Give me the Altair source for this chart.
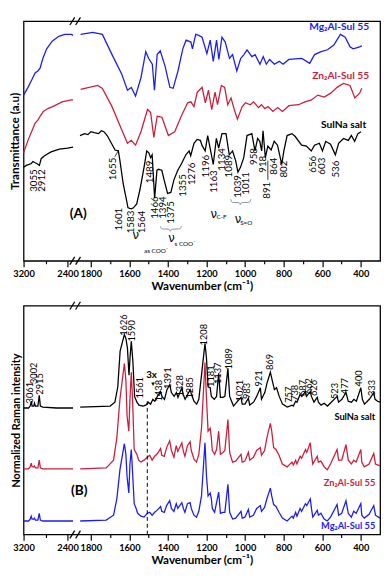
import altair as alt
import pandas as pd

# ---------------- Panel A : FTIR (transmittance, a.u.) ----------------
ftir_mg = [(3200,172),(3120,180),(3050,188),(2990,195),(2940,197),(2900,200),(2850,210),(2780,220),(2680,228),(2560,233),(2450,235),(2330,235),(2300,234),
           (1853,235),(1790,237),(1740,235),(1690,214),(1640,194),(1610,177),(1590,180),(1568,171),(1540,190),(1515,217),(1500,210),(1481,204),(1470,177),
           (1456,214),(1440,218),(1415,202),(1390,180),(1373,179),(1348,197),(1323,220),(1306,229),(1281,227),(1273,220),(1256,235),(1240,234),(1223,232),
           (1198,215),(1181,229),(1165,207),(1148,229),(1136,209),(1120,232),(1103,227),(1081,210),(1065,214),(1043,197),(1023,210),(1006,214),(990,219),
           (965,212),(948,214),(923,204),(906,212),(890,204),(873,209),(848,204),(823,207),(803,204),(773,209),(706,210),(665,205),(640,214),(606,217),
           (573,219),(540,224),(506,235),(481,232),(456,222),(440,220),(406,222),(395,223)]
ftir_zn = [(3200,112),(3120,125),(3040,136),(2990,143),(2940,146),(2900,150),(2840,155),(2760,158),(2670,160),(2500,165),(2330,167),(2300,167),
           (1853,178),(1765,182),(1740,179),(1690,160),(1648,140),(1610,122),(1590,125),(1568,120),(1540,134),(1506,157),(1490,154),(1473,128),(1456,150),
           (1431,149),(1398,130),(1365,134),(1331,150),(1298,164),(1281,165),(1265,160),(1248,175),(1223,180),(1206,164),(1190,177),(1173,157),(1156,175),
           (1143,162),(1123,182),(1106,180),(1090,162),(1073,169),(1056,157),(1040,147),(1015,160),(998,164),(973,162),(956,165),(931,159),(915,162),
           (898,158),(881,160),(856,155),(831,159),(806,155),(773,161),(723,162),(690,165),(656,167),(623,172),(590,170),(556,174),(523,180),(490,184),
           (456,182),(431,169),(406,174),(395,179)]
ftir_na = [(3200,97),(3150,99),(3100,100),(3060,101),(3030,103),(3000,102),(2960,101),(2912,99),(2880,106),(2820,109),(2700,113),(2550,116),(2400,117),(2300,118),
           (1856,130),(1832,132),(1815,131),(1800,134),(1782,133),(1760,132),(1745,135),(1732,134),(1715,130),(1699,124),(1674,115),(1657,114),(1649,104),
           (1632,80),(1607,55),(1590,54),(1579,55),(1562,59),(1545,74),(1524,97),(1510,114),(1499,112),(1490,107),(1482,110),(1469,65),(1457,94),(1449,95),
           (1432,94),(1415,80),(1402,70),(1385,71),(1369,84),(1349,94),(1332,100),(1307,110),(1290,114),(1282,109),(1265,122),(1249,126),(1232,125),
           (1224,120),(1207,114),(1194,130),(1165,100),(1149,127),(1137,117),(1120,132),(1099,132),(1082,110),(1065,114),(1049,104),(1037,92),(1024,97),
           (1007,107),(990,130),(965,132),(949,114),(935,127),(924,124),(914,114),(907,135),(895,107),(882,119),(865,115),(849,124),(832,120),(810,100),
           (799,114),(782,130),(757,132),(740,129),(707,120),(682,119),(657,114),(640,120),(615,122),(599,114),(582,124),(557,121),(532,110),(515,122),
           (490,127),(465,125),(449,130),(432,124),(415,132),(399,134)]

# label text, wavenumber of label centre, value at the label's top end
ftir_peaks = [("3055",3004,95),("2912",2872,95),("1655",1682,107),("1601",1655,55),("1583",1590,52),("1564",1532,52),("1489",1495,104),
              ("1466",1467,67),("1394",1425,67),("1375",1382,62),("1355",1322,90),("1276",1273,102),("1196",1202,110),("1163",1161,94),
              ("1134",1120,117),("1089",1082,110),("1039",1036,89),("1011",995,92),("958",952,117),("918",905,109),("891",885,82),
              ("864",850,107),("802",796,104),("656",645,109),("603",600,107),("536",530,104)]

# ---------------- Panel B : Raman (normalized intensity) ----------------
raman_na = [(3200,131),(3110,131),(3080,133),(3061,138),(3045,133),(3015,133),(3002,136),(2985,133),(2940,133),(2915,144),(2895,133),(2850,132),(2600,131),(2300,131),
            (1855,132),(1700,133),(1675,137),(1660,153),(1648,190),(1626,207),(1618,203),(1610,193),(1602,165),(1596,185),(1590,200),(1582,180),(1573,143),
            (1561,137),(1550,134),(1530,133),(1515,134),(1502,137),(1490,135),(1478,140),(1468,138),(1455,143),(1438,148),(1431,143),(1418,140),(1405,150),
            (1391,155),(1382,147),(1368,143),(1356,147),(1348,142),(1328,152),(1321,145),(1311,140),(1298,145),(1285,150),(1278,145),(1265,138),(1251,135),
            (1240,140),(1226,165),(1208,198),(1200,182),(1192,153),(1181,152),(1175,143),(1160,140),(1148,143),(1137,167),(1128,142),(1115,142),(1105,143),
            (1089,172),(1080,143),(1060,133),(1043,137),(1021,142),(1015,135),(1001,135),(983,141),(976,134),(956,137),(940,143),(921,152),(915,140),
            (898,147),(886,157),(869,168),(860,160),(848,150),(837,152),(823,143),(806,135),(781,132),(757,134),(750,133),(738,138),(731,137),(715,145),
            (706,143),(687,148),(682,143),(662,148),(656,143),(643,137),(626,142),(620,137),(606,134),(590,136),(573,133),(553,137),(523,143),(515,137),
            (498,140),(477,147),(465,138),(448,137),(436,140),(423,138),(400,152),(392,140),(381,135),(356,140),(333,147),(326,140),(313,138),(300,137)]
raman_zn = [(3200,68),(3110,68),(3080,70),(3061,74),(3045,70),(3015,70),(3002,71),(2985,69),(2940,69),(2915,77),(2895,69),(2850,68),(2600,68),(2300,68),
            (1855,68),(1720,69),(1682,77),(1665,100),(1649,140),(1626,177),(1618,160),(1612,123),(1603,107),(1597,140),(1590,168),(1583,137),(1575,88),
            (1561,83),(1552,77),(1540,75),(1524,77),(1507,80),(1495,82),(1482,77),(1469,81),(1457,83),(1438,89),(1432,82),(1419,81),(1407,90),(1391,97),
            (1382,87),(1369,80),(1357,92),(1349,86),(1328,95),(1320,86),(1312,81),(1299,92),(1285,96),(1279,87),(1265,78),(1252,75),(1240,83),(1226,110),
            (1208,178),(1200,140),(1192,107),(1181,110),(1175,100),(1170,87),(1158,83),(1148,88),(1137,107),(1128,83),(1115,85),(1105,87),(1089,119),
            (1080,85),(1065,75),(1049,76),(1021,83),(1015,75),(1001,76),(983,85),(976,77),(957,80),(940,87),(921,90),(915,82),(899,87),(887,100),(869,115),
            (862,107),(852,90),(840,88),(824,82),(807,73),(782,70),(757,75),(750,72),(738,77),(731,73),(715,81),(707,79),(687,88),(680,85),(662,95),(656,83),
            (649,73),(626,81),(620,75),(607,76),(590,70),(574,67),(557,73),(523,88),(515,77),(499,77),(477,93),(465,77),(449,73),(437,77),(424,75),(400,88),
            (395,75),(382,70),(357,73),(333,84),(324,73),(300,71)]
raman_mg = [(3200,14),(3110,14),(3080,16),(3061,19),(3045,16),(3015,16),(3002,17),(2985,15),(2940,15),(2915,22),(2895,15),(2850,14),(2600,14),(2300,14),
            (1855,14),(1720,15),(1682,20),(1665,37),(1649,67),(1626,94),(1618,83),(1612,60),(1603,43),(1597,73),(1590,88),(1583,63),(1575,32),(1565,27),
            (1557,22),(1540,19),(1524,18),(1507,22),(1495,23),(1482,20),(1469,23),(1457,25),(1438,29),(1432,24),(1419,23),(1407,30),(1391,35),(1382,27),
            (1369,24),(1357,32),(1349,27),(1328,33),(1320,27),(1312,23),(1299,32),(1285,33),(1279,27),(1265,20),(1252,18),(1240,24),(1226,40),(1208,95),
            (1200,60),(1192,40),(1181,43),(1175,37),(1170,27),(1158,23),(1137,44),(1128,22),(1115,23),(1105,23),(1089,52),(1080,23),(1065,16),(1049,17),
            (1021,24),(1015,17),(1001,18),(983,26),(976,18),(957,20),(940,27),(921,30),(915,24),(899,28),(887,37),(869,48),(862,40),(852,31),(840,29),
            (824,23),(807,17),(782,14),(757,19),(750,17),(738,23),(731,19),(715,27),(707,24),(687,32),(680,30),(662,37),(656,27),(649,18),(626,25),(620,20),
            (607,22),(590,16),(574,14),(557,18),(523,31),(515,20),(499,22),(477,35),(465,22),(449,18),(437,24),(424,22),(400,32),(395,20),(382,17),(357,21),
            (333,30),(324,20),(300,17)]

raman_peaks = [("3061",3074,158),("3002",3009,178),("2915",2898,167),("1626",1626,228),("1590",1585,222),("1561",1545,163),("1438",1444,160),
               ("1391",1399,173),("1328",1337,165),("1285",1287,163),("1208",1215,218),("1181",1177,175),("1137",1140,178),("1089",1085,193),
               ("1021",1027,160),("983",990,157),("921",929,170),("869",869,187),("757",770,153),("738",740,155),("687",699,160),("662",670,162),
               ("626",640,160),("523",532,157),("477",482,162),("400",407,170),("333",340,160)]

# sample names (text, series, wn of right end, value)
names_a = [("Mg₂Al-Sul 55","Mg",357,243),("Zn₂Al-Sul 55","Zn",357,192),("SulNa salt","Na",372,141)]
names_b = [("SulNa salt","Na",325,122),("Zn₂Al-Sul 55","Zn",325,53),("Mg₂Al-Sul 55","Mg",325,9)]

# axis break positions (wn pairs) and ticks
break_wn = [(2358,2270),(2253,2165)]
tick_wn = [3200, 2800, 2400] + list(range(1800, 300, -100))
major_wn = [3200, 2400, 1800, 1600, 1400, 1200, 1000, 800, 600, 400]

U_EXPR = "datum.wn >= 2000 ? (3200 - datum.wn) * 0.057 : 69.7 + (1800 - datum.wn) * 0.2"
U2_EXPR = "datum.wn2 >= 2000 ? (3200 - datum.wn2) * 0.057 : 69.7 + (1800 - datum.wn2) * 0.2"
X_MAX = 69.7 + 1500 * 0.2
FONT = "Lato"

def to_u(w):
    return (3200 - w) * 0.057 if w >= 2000 else 69.7 + (1800 - w) * 0.2

tick_vals = [round(to_u(w), 3) for w in tick_wn]
label_expr = "".join(f"abs(datum.value - {to_u(w):.3f}) < 0.01 ? '{w}' : " for w in major_wn) + "''"
major_test = " || ".join(f"abs(datum.value - {to_u(w):.3f}) < 0.01" for w in major_wn)

color_scale = alt.Scale(domain=["Mg", "Zn", "Na"], range=["#1c1cf2", "#cc1e3c", "#000000"])

xaxis = alt.Axis(values=tick_vals, labelExpr=label_expr, labelOverlap=False, labelFlush=False, labelBound=False,
                 tickSize={"condition": {"test": major_test, "value": 6}, "value": 3},
                 tickColor="black", tickWidth=1.2, domain=False, grid=False,
                 labelFont=FONT, labelFontWeight="bold", labelFontSize=9.5, labelColor="black", labelPadding=2,
                 title="Wavenumber  (cm⁻¹)", titleFont=FONT, titleFontSize=12, titleFontWeight="bold",
                 titleColor="black", titlePadding=3)

def spectra_df(d):
    rows = []
    for name, pts in d.items():
        for wn, v in pts:
            rows.append({"wn": wn, "val": v, "series": name, "seg": name + ("L" if wn >= 2000 else "R")})
    return pd.DataFrame(rows)

def panel(spectra, peaks, names, ymax, height, ytitle, ytitle_size, name_size, peak_size, extra):
    x = alt.X("u:Q", scale=alt.Scale(domain=[0, X_MAX], nice=False, zero=False), axis=xaxis)
    yaxis = alt.Axis(title=ytitle, labels=False, ticks=False, domain=False, grid=False, titleFont=FONT,
                     titleFontSize=ytitle_size, titleFontWeight="bold", titleColor="black", titlePadding=2)
    y = alt.Y("val:Q", scale=alt.Scale(domain=[0, ymax], nice=False, zero=False), axis=yaxis)

    lines = alt.Chart(spectra_df(spectra)).transform_calculate(u=U_EXPR).mark_line(strokeWidth=1.3).encode(
        x=x, y=y, color=alt.Color("series:N", scale=color_scale, legend=None), detail="seg:N")

    pk = pd.DataFrame(peaks, columns=["txt", "wn", "val"])
    peak_text = alt.Chart(pk).transform_calculate(u=U_EXPR).mark_text(
        angle=270, align="right", baseline="middle", font=FONT, fontSize=peak_size, color="black").encode(
        x=x, y=y, text="txt:N")

    nm = pd.DataFrame(names, columns=["txt", "series", "wn", "val"])
    name_text = alt.Chart(nm).transform_calculate(u=U_EXPR).mark_text(
        align="right", baseline="middle", font=FONT, fontSize=name_size, fontWeight="bold").encode(
        x=x, y=y, text="txt:N", color=alt.Color("series:N", scale=color_scale, legend=None))

    brk_rows = []
    for (w1, w2) in break_wn:
        brk_rows.append({"wn": w1, "wn2": w2, "val": -4, "val2": 4})
        brk_rows.append({"wn": w1, "wn2": w2, "val": ymax - 4, "val2": ymax + 4})
    breaks = alt.Chart(pd.DataFrame(brk_rows)).transform_calculate(u=U_EXPR, u2=U2_EXPR).mark_rule(
        color="black", strokeWidth=1.3).encode(x=x, x2="u2:Q", y=y, y2="val2:Q")

    layers = [lines, peak_text, name_text, breaks] + [e(x, y) for e in extra]
    return alt.layer(*layers).properties(width=366, height=height)

# ---- panel A extras ----
ftir_letters = [("(A)", 1865, 48)]
nu_big = [("ν", 1567, 27), ("ν", 1382, 23.5), ("ν", 1162, 48.5), ("ν", 1037, 43.5)]
nu_sub = [("as COO⁻", 1462, 10), ("s COO⁻", 1312, 17), ("C-F", 1122, 45), ("S=O", 994, 39)]
brace1 = [(1440,36),(1435,33.5),(1430,33),(1394,33),(1391,32),(1388,30),(1385,32),(1382,33),(1340,33),(1335,33.5),(1330,36)]
brace2 = [(1075,64),(1070,61),(1065,60.5),(1030,60.5),(1027,59.5),(1025,57.5),(1023,59.5),(1020,60.5),(980,60.5),(975,61),(970,64)]
leaders_a = [(1675, 1655, 108, 115), (882, 882, 84, 104)]

def a_extras():
    def letters(x, y):
        return alt.Chart(pd.DataFrame(ftir_letters, columns=["txt", "wn", "val"])).transform_calculate(u=U_EXPR).mark_text(
            font=FONT, fontSize=14, fontWeight="bold", color="black").encode(x=x, y=y, text="txt:N")
    def nus(x, y):
        return alt.Chart(pd.DataFrame(nu_big, columns=["txt", "wn", "val"])).transform_calculate(u=U_EXPR).mark_text(
            font="DejaVu Sans", fontSize=12, color="black").encode(x=x, y=y, text="txt:N")
    def subs(x, y):
        return alt.Chart(pd.DataFrame(nu_sub, columns=["txt", "wn", "val"])).transform_calculate(u=U_EXPR).mark_text(
            font=FONT, fontSize=6.5, color="black").encode(x=x, y=y, text="txt:N")
    def braces(x, y):
        rows = [{"wn": w, "val": v, "b": "b1"} for w, v in brace1] + [{"wn": w, "val": v, "b": "b2"} for w, v in brace2]
        return alt.Chart(pd.DataFrame(rows)).transform_calculate(u=U_EXPR).mark_line(
            color="#7f8d99", strokeWidth=1, interpolate="basis").encode(x=x, y=y, detail="b:N")
    def leaders(x, y):
        return alt.Chart(pd.DataFrame(leaders_a, columns=["wn", "wn2", "val", "val2"])).transform_calculate(
            u=U_EXPR, u2=U2_EXPR).mark_rule(color="black", strokeWidth=0.8).encode(x=x, x2="u2:Q", y=y, y2="val2:Q")
    return [letters, nus, subs, braces, leaders]

# ---- panel B extras ----
raman_letters = [("(B)", 1860, 45)]
dash_line = [(1507, 0, 138)]
three_x = [("3x", 1485, 165)]
arrow = [("▾", 1478, 156)]

def b_extras():
    def letters(x, y):
        return alt.Chart(pd.DataFrame(raman_letters, columns=["txt", "wn", "val"])).transform_calculate(u=U_EXPR).mark_text(
            font=FONT, fontSize=14, fontWeight="bold", color="black").encode(x=x, y=y, text="txt:N")
    def dash(x, y):
        return alt.Chart(pd.DataFrame(dash_line, columns=["wn", "val", "val2"])).transform_calculate(u=U_EXPR).mark_rule(
            color="black", strokeWidth=1, strokeDash=[4, 3]).encode(x=x, y=y, y2="val2:Q")
    def tx(x, y):
        return alt.Chart(pd.DataFrame(three_x, columns=["txt", "wn", "val"])).transform_calculate(u=U_EXPR).mark_text(
            font=FONT, fontSize=10, fontWeight="bold", color="black").encode(x=x, y=y, text="txt:N")
    def arr(x, y):
        return alt.Chart(pd.DataFrame(arrow, columns=["txt", "wn", "val"])).transform_calculate(u=U_EXPR).mark_text(
            font="DejaVu Sans", fontSize=7, color="black").encode(x=x, y=y, text="txt:N")
    return [letters, dash, tx, arr]

panel_a = panel({"Mg": ftir_mg, "Zn": ftir_zn, "Na": ftir_na}, ftir_peaks, names_a, 248.7, 246,
                "Transmittance (a.u)", 12, 10.5, 10, a_extras())
panel_b = panel({"Na": raman_na, "Zn": raman_zn, "Mg": raman_mg}, raman_peaks, names_b, 237, 235,
                "Normalized Raman intensity", 11, 9.5, 9.5, b_extras())

chart = alt.vconcat(panel_a, panel_b, spacing=7).properties(
    padding={"left": 0, "top": 0, "right": 0, "bottom": 0}, background="white"
).configure_view(stroke="black", strokeWidth=1.3)

chart.save("out.html", embed_options={"renderer": "svg", "actions": False})
